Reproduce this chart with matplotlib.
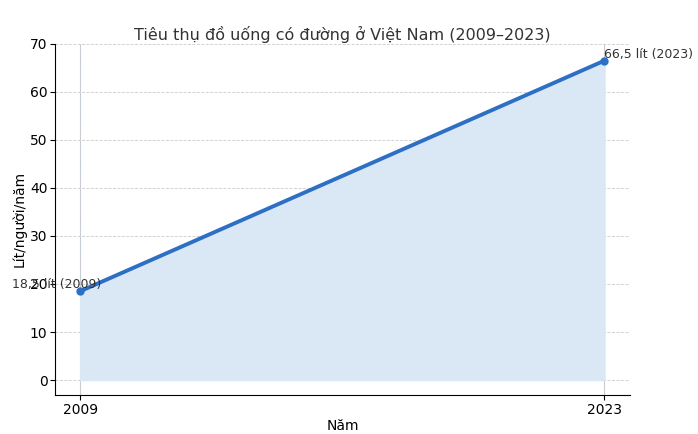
import matplotlib
matplotlib.use("Agg")
import matplotlib.pyplot as plt

years = [2009, 2023]
values = [18.5, 66.5]
labels = ["18,5 lít (2009)", "66,5 lít (2023)"]

fig = plt.figure(figsize=(6.98, 4.34), dpi=100)
ax = fig.add_axes([0.079, 0.090, 0.824, 0.809])
ax.fill_between(years, values, 0, color="#dae7f5")
ax.plot(years, values, color="#2d6fc4", lw=2.8, marker="o", ms=5)
for x in years:
    ax.axvline(x, color="#c0cfe0", lw=0.8, zorder=0)
ax.annotate(labels[0], (years[0], values[0]), xytext=(-17, 0), textcoords="offset points",
            ha="center", va="bottom", fontsize=9, color="#333333")
ax.annotate(labels[1], (years[1], values[1]), xytext=(0, 0), textcoords="offset points",
            ha="left", va="bottom", fontsize=9, color="#333333")
ax.set_xlim(2008.33, 2023.69)
ax.set_ylim(-3.1, 70)
ax.set_xticks(years)
ax.set_yticks(range(0, 71, 10))
ax.grid(True, ls="--", color="#cccccc", lw=0.6)
ax.set_axisbelow(True)
for s in ["top", "right"]:
    ax.spines[s].set_visible(False)
ax.tick_params(labelsize=10, pad=2)
ax.set_title("Tiêu thụ đồ uống có đường ở Việt Nam (2009–2023)", fontsize=11.5, color="#333333", pad=3)
ax.set_xlabel("Năm", fontsize=10, labelpad=2)
ax.set_ylabel("Lít/người/năm", fontsize=10, labelpad=2)
fig.savefig("out.png", dpi=100)
